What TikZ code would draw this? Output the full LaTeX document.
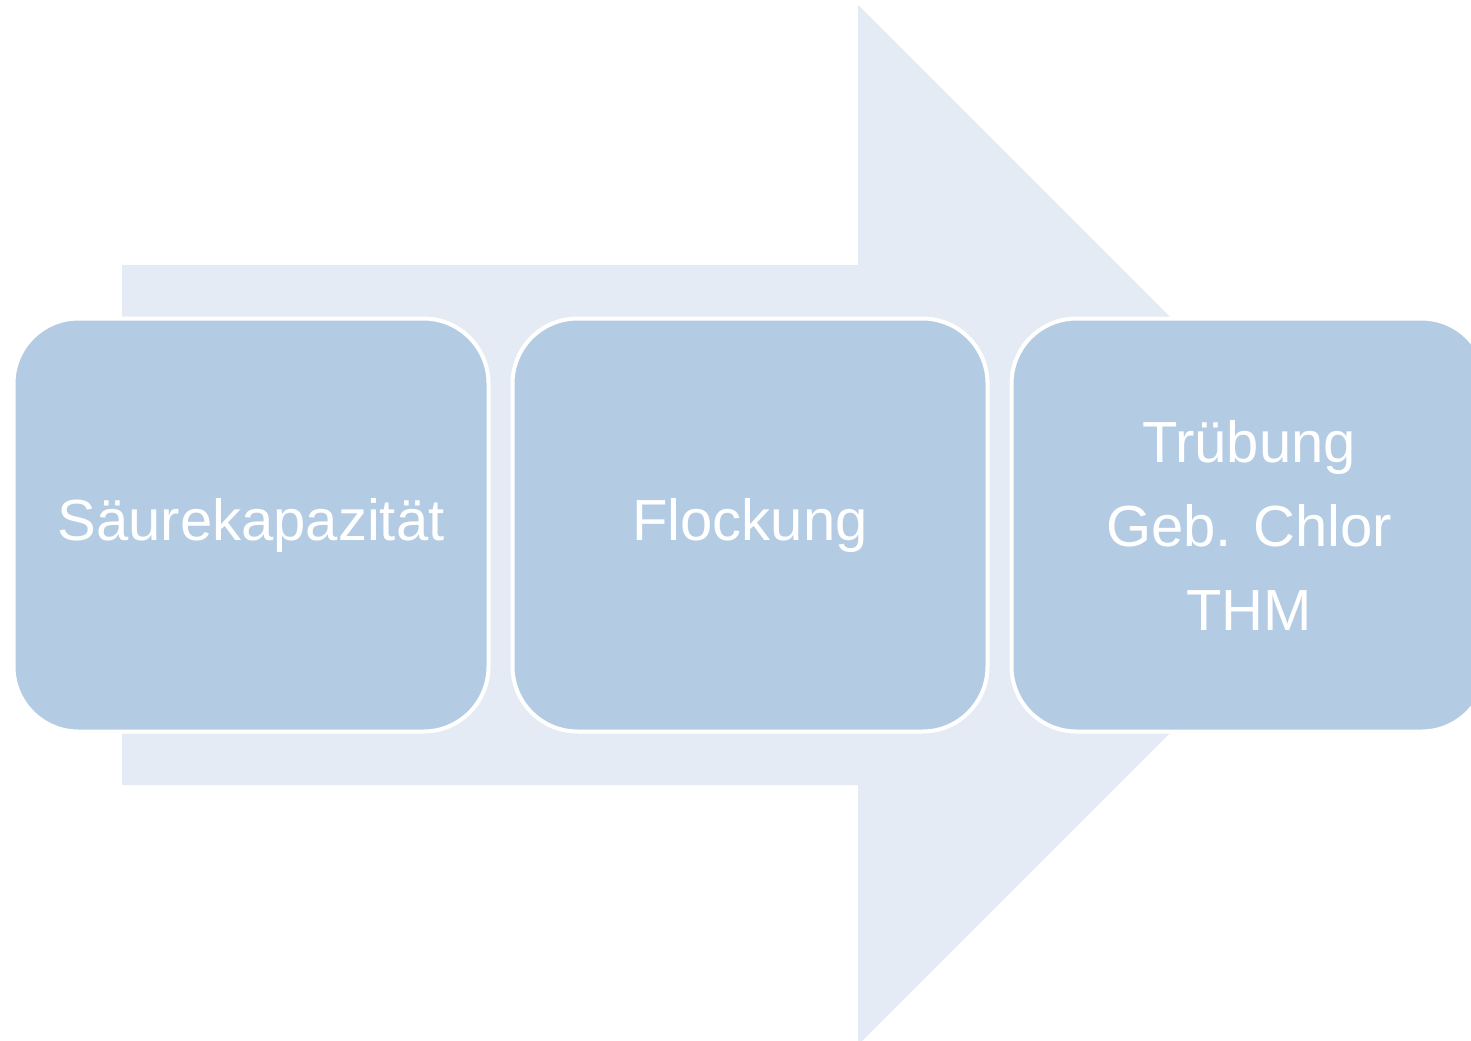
\documentclass[tikz,border=0pt]{standalone}
\usepackage{fontspec}
\setmainfont{Liberation Sans}
\usepackage{tikz}
\usetikzlibrary{positioning}
\definecolor{pfeilblau}{HTML}{E4EBF5}
\definecolor{kastenblau}{HTML}{B3CCE4}
\tikzset{
  pfeil/.style={fill=pfeilblau,draw=none},
  kasten/.style={draw=white,line width=2pt,fill=kastenblau,rounded corners=32.5pt,
    minimum width=237.5pt,minimum height=206.5pt,align=center,text=white,
    font=\fontsize{29}{42}\selectfont},
}

\begin{document}
\begin{tikzpicture}[x=0.5pt,y=-0.5pt]
  \clip (0,0) rectangle (1471,1040);
  \fill[white] (0,0) rectangle (1471,1040);
  % grosser Pfeil im Hintergrund
  \path[pfeil] (122,265) -- (858,265) -- (858,5) -- (1378,525) -- (858,1045)
    -- (858,785) -- (122,785) -- cycle;
  \node[kasten] (saeure) at (251,525) {Säurekapazität};
  \node[kasten,right=10pt of saeure] (flock) {Flockung};
  \node[kasten,right=10pt of flock] (trueb) {Trübung\\Geb. Chlor\\THM};
\end{tikzpicture}
\end{document}
